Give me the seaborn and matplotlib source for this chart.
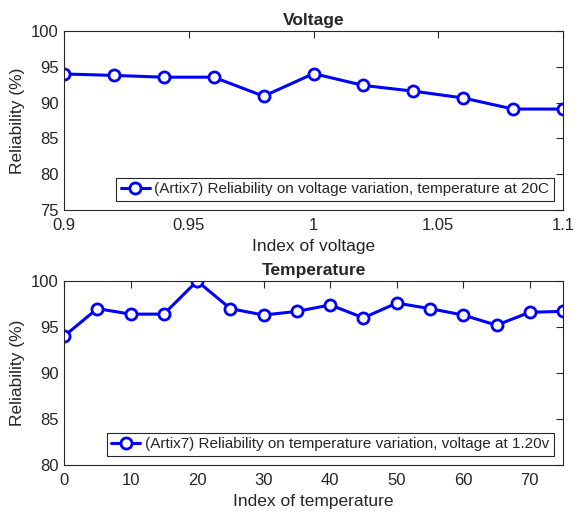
import numpy as np
import pandas as pd
import matplotlib
matplotlib.use("Agg")
import matplotlib.pyplot as plt
import seaborn as sns

sns.set_style("white")
plt.rcParams['font.family'] = ['Liberation Sans', 'DejaVu Sans']

# data
voltage = [0.90, 0.92, 0.94, 0.96, 0.98, 1.00, 1.02, 1.04, 1.06, 1.08, 1.10]
rel_voltage = [94.0, 93.8, 93.55, 93.55, 90.9, 94.05, 92.4, 91.6, 90.65, 89.1, 89.1]

temperature = [0, 5, 10, 15, 20, 25, 30, 35, 40, 45, 50, 55, 60, 65, 70, 75]
rel_temp = [94.0, 97.0, 96.4, 96.4, 100.0, 97.0, 96.3, 96.7, 97.4, 96.0, 97.6,
            97.0, 96.3, 95.2, 96.6, 96.7]

volt_label = "(Artix7) Reliability on voltage variation, temperature at 20C"
temp_label = "(Artix7) Reliability on temperature variation, voltage at 1.20v"

df_v = pd.DataFrame({"x": voltage, "y": rel_voltage})
df_t = pd.DataFrame({"x": temperature, "y": rel_temp})

fig = plt.figure(figsize=(5.81, 5.16), dpi=100)
ax1 = fig.add_axes([0.1102, 0.593, 0.8589, 0.3469])
ax2 = fig.add_axes([0.1102, 0.0988, 0.8589, 0.3566])

dark = "#262626"
style = dict(color="blue", marker="o", markersize=8, markeredgewidth=2,
             markerfacecolor="white", markeredgecolor="blue", linewidth=2.2)

sns.lineplot(data=df_v, x="x", y="y", ax=ax1, label=volt_label, **style)
sns.lineplot(data=df_t, x="x", y="y", ax=ax2, label=temp_label, **style)

ax1.set_xlim(0.9, 1.1)
ax1.set_ylim(75, 100)
xt = [0.9, 0.95, 1.0, 1.05, 1.1]
ax1.set_xticks(xt)
ax1.set_xticklabels([f"{v:g}" for v in xt])
ax1.set_yticks([75, 80, 85, 90, 95, 100])
ax1.set_title("Voltage", fontsize=12.5, fontweight="bold", pad=4)
ax1.set_xlabel("Index of voltage", fontsize=12.5, color=dark)

ax2.set_xlim(0, 75)
ax2.set_ylim(80, 100)
ax2.set_xticks(range(0, 80, 10))
ax2.set_yticks([80, 85, 90, 95, 100])
ax2.set_title("Temperature", fontsize=12.5, fontweight="bold", pad=4)
ax2.set_xlabel("Index of temperature", fontsize=12.5, color=dark)

for ax in (ax1, ax2):
    ax.set_ylabel("Reliability (%)", fontsize=12.5, color=dark, labelpad=4)
    ax.tick_params(direction="in", top=True, right=True, length=5,
                   width=0.8, labelsize=12, colors=dark, pad=4)
    ax.tick_params(axis="x", pad=6)
    for s in ax.spines.values():
        s.set_color(dark)
        s.set_linewidth(0.8)
    leg = ax.legend(loc="lower right", fontsize=11, frameon=True, fancybox=False,
                    edgecolor=dark, framealpha=1, handlelength=1.9,
                    handletextpad=0.3, borderpad=0.3, borderaxespad=0.6)
    leg.get_frame().set_linewidth(0.8)

fig.savefig("out.png", dpi=100)
